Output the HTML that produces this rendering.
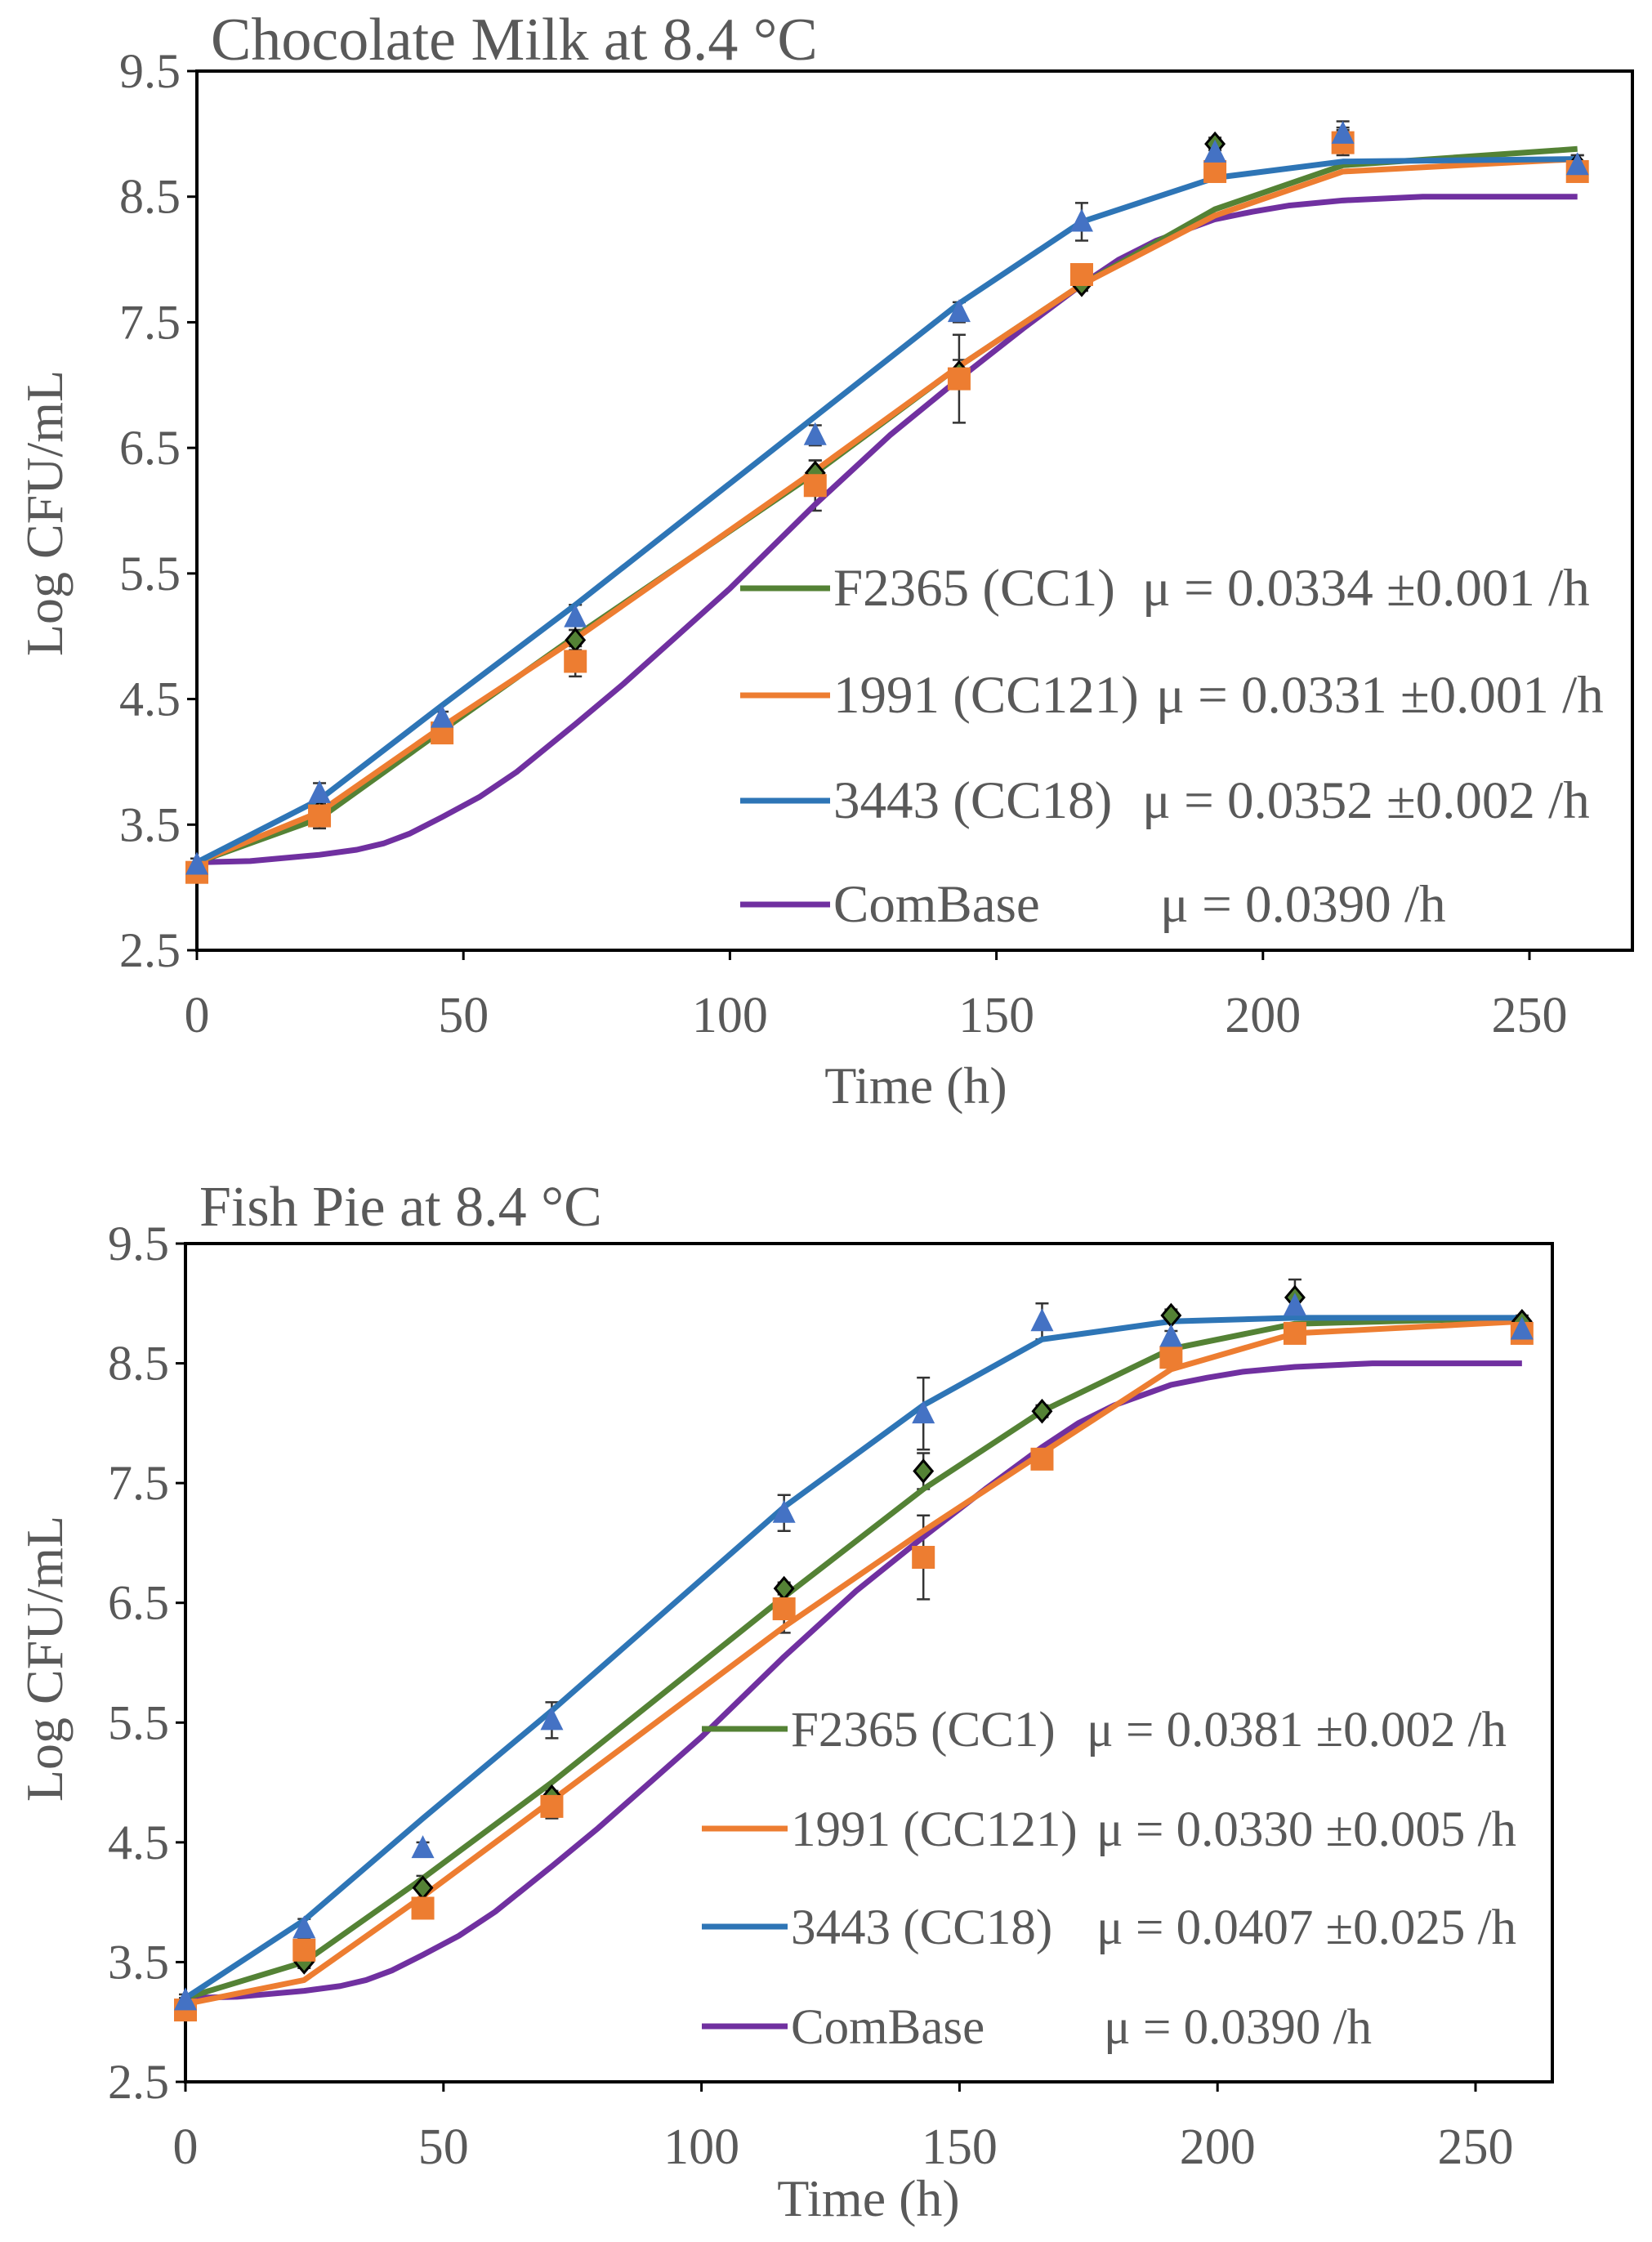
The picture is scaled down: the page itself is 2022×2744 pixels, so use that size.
<!DOCTYPE html>
<html><head><meta charset="utf-8"><style>
body{margin:0;background:#fff}
svg text{font-family:"Liberation Serif",serif;fill:#595959}
</style></head><body>
<svg id="root" width="2022" height="2739" viewBox="0 0 2022 2739" xmlns="http://www.w3.org/2000/svg"></svg>
<script>
const times=[0,23,46,71,116,143,166,191,215,259];
const yTicks=[2.5,3.5,4.5,5.5,6.5,7.5,8.5,9.5];
const xTicks=[0,50,100,150,200,250];
const cbTimes=[0,10,23,30,35,40,46,53,60,71,80,90,100,116,130,143,155,166,173,180,191,198,205,215,230,259];
const cbVals=[3.2,3.21,3.26,3.3,3.35,3.43,3.56,3.72,3.92,4.3,4.62,5.0,5.38,6.05,6.6,7.05,7.45,7.8,8.0,8.15,8.32,8.38,8.43,8.47,8.5,8.5];
// chart 1: chocolate milk
const c1GreenPts=[3.15,3.6,4.25,4.97,6.3,7.1,7.8,8.92,8.95,8.75];
const c1OrangePts=[3.12,3.57,4.23,4.8,6.2,7.05,7.88,8.7,8.93,8.7];
const c1BluePts=[3.18,3.75,4.35,5.15,6.6,7.58,8.3,8.85,9.0,8.75];
const c1GreenErr=[0.05,0.1,0.08,0.08,0.1,0.1,0.05,0.05,0.1,0.08];
const c1OrangeErr=[0.05,0.1,0.08,0.12,0.2,0.35,0.05,0.05,0.1,0.08];
const c1BlueErr=[0.05,0.08,0.05,0.1,0.08,0.08,0.15,0.08,0.1,0.08];
const c1GreenFit=[3.2,3.55,4.25,5.0,6.3,7.15,7.8,8.4,8.75,8.88];
const c1OrangeFit=[3.2,3.6,4.28,4.98,6.32,7.15,7.8,8.35,8.7,8.8];
const c1BlueFit=[3.2,3.7,4.45,5.25,6.75,7.65,8.3,8.65,8.78,8.8];
// chart 2: fish pie
const c2GreenPts=[3.15,3.5,4.12,4.88,6.62,7.6,8.1,8.9,9.05,8.85];
const c2OrangePts=[3.1,3.6,3.95,4.8,6.45,6.88,7.7,8.55,8.75,8.75];
const c2BluePts=[3.18,3.78,4.45,5.52,7.25,8.08,8.85,8.72,8.98,8.78];
const c2GreenErr=[0.05,0.05,0.1,0.05,0.05,0.15,0.05,0.05,0.15,0.05];
const c2OrangeErr=[0.05,0.1,0.08,0.1,0.2,0.35,0.05,0.05,0.05,0.05];
const c2BlueErr=[0.05,0.08,0.05,0.15,0.15,0.3,0.15,0.05,0.1,0.05];
const c2GreenFit=[3.2,3.5,4.2,5.0,6.55,7.45,8.1,8.62,8.83,8.88];
const c2OrangeFit=[3.15,3.35,4.05,4.85,6.3,7.1,7.75,8.45,8.75,8.85];
const c2BlueFit=[3.2,3.85,4.7,5.6,7.3,8.15,8.7,8.85,8.88,8.88];
const c1Legend=[["F2365 (CC1)","μ = 0.0334 ±0.001 /h",1398],["1991 (CC121)","μ = 0.0331 ±0.001 /h",1415],["3443 (CC18)","μ = 0.0352 ±0.002 /h",1398],["ComBase","μ = 0.0390 /h",1420]];
const c2Legend=[["F2365 (CC1)","μ = 0.0381 ±0.002 /h",1330],["1991 (CC121)","μ = 0.0330 ±0.005 /h",1342],["3443 (CC18)","μ = 0.0407 ±0.025 /h",1342],["ComBase","μ = 0.0390 /h",1351]];

const G='#548235',O='#ED7D31',B='#4472C4',BL='#2E75B6',P='#7030A0';
const NS='http://www.w3.org/2000/svg';
const root=document.getElementById('root');
function mk(t,a,p){const e=document.createElementNS(NS,t);for(const k in a)e.setAttribute(k,a[k]);(p||root).appendChild(e);return e;}

function chart(o){
  const g=mk('g',{});
  
  
  const X=t=>o.L+t*(o.x250-o.L)/250;
  const Y=v=>o.B-(v-2.5)*(o.B-o.T)/7;
  const fr=mk('rect',{x:o.L,y:o.T,width:o.R-o.L,height:o.B-o.T,fill:'none',stroke:'#000','stroke-width':4},g);
  
  
  yTicks.forEach(v=>{
    mk('line',{x1:o.L-12,x2:o.L,y1:Y(v),y2:Y(v),stroke:'#000','stroke-width':3},g);
    const t=mk('text',{x:o.L-20,y:Y(v)+20,'text-anchor':'end','font-size':60},g);t.textContent=v.toFixed(1);
    
    
  });
  xTicks.forEach(v=>{
    mk('line',{x1:X(v),x2:X(v),y1:o.B,y2:o.B+12,stroke:'#000','stroke-width':3},g);
    const t=mk('text',{x:X(v),y:o.B+100,'text-anchor':'middle','font-size':62},g);t.textContent=v;
    
    
  });
  const tt=mk('text',{x:o.tx,y:o.ty,'font-size':o.tfs},g);tt.textContent=o.title;
  
  
  const xt=mk('text',{x:o.xtx,y:o.xty,'text-anchor':'middle','font-size':64},g);xt.textContent='Time (h)';
  
  
  const yt=mk('text',{x:0,y:0,'text-anchor':'middle','font-size':64,transform:`translate(${o.ytx},${o.yty}) rotate(-90)`},g);yt.textContent='Log CFU/mL';
  
  
  const line=(ts,vs,c,n)=>{const p=mk('polyline',{points:ts.map((t,i)=>X(t)+','+Y(vs[i])).join(' '),fill:'none',stroke:c,'stroke-width':7,'stroke-linejoin':'round'},g);
    
    };
  const errs=(vs,es)=>times.forEach((t,i)=>{const x=X(t),a=Y(vs[i]-es[i]),b=Y(vs[i]+es[i]);
    mk('path',{d:`M${x},${a}V${b}M${x-8},${a}H${x+8}M${x-8},${b}H${x+8}`,stroke:'#333','stroke-width':2.5,fill:'none'},g);});
  errs(o.gp,o.ge);errs(o.op,o.oe);errs(o.bp,o.be);
  line(cbTimes,cbVals,P,'combase-line');
  line(times,o.gf,G,'f2365-fit-line');
  line(times,o.of,O,'cc121-fit-line');
  line(times,o.bf,BL,'cc18-fit-line');
  times.forEach((t,i)=>{const x=X(t),y=Y(o.gp[i]);
    const m=mk('path',{d:`M${x},${y-13}L${x+11},${y}L${x},${y+13}L${x-11},${y}Z`,fill:G,stroke:'#000','stroke-width':3},g);
    
    });
  times.forEach((t,i)=>{const x=X(t),y=Y(o.op[i]);
    const m=mk('rect',{x:x-14,y:y-14,width:28,height:28,fill:O},g);
    
    });
  times.forEach((t,i)=>{const x=X(t),y=Y(o.bp[i]);
    const m=mk('path',{d:`M${x},${y-16}L${x+14},${y+12}L${x-14},${y+12}Z`,fill:B},g);
    
    });
  const cols=[G,O,BL,P];
  o.leg.forEach((r,i)=>{const y=o.ly[i];
    const lg=mk('g',{},g);
    
    
    mk('line',{x1:o.lx1,x2:o.lx2,y1:y,y2:y,stroke:cols[i],'stroke-width':7},lg);
    const a=mk('text',{x:o.lx2+4,y:y+21,'font-size':o.lfs},lg);a.textContent=r[0];
    const b=mk('text',{x:r[2],y:y+21,'font-size':o.lfs},lg);b.textContent=r[1];
  });
}
chart({name:'chocolate-milk-chart',L:241,R:1998,T:87,B:1163,x250:1872,title:'Chocolate Milk at 8.4 °C',tfs:74,lfs:65,tx:258,ty:73,xtx:1121,xty:1350,ytx:76,yty:628,
 gp:c1GreenPts,op:c1OrangePts,bp:c1BluePts,ge:c1GreenErr,oe:c1OrangeErr,be:c1BlueErr,gf:c1GreenFit,of:c1OrangeFit,bf:c1BlueFit,
 leg:c1Legend,lx1:906,lx2:1016,ly:[720,851,980,1107]});
chart({name:'fish-pie-chart',L:227,R:1900,T:1522,B:2548,x250:1806,title:'Fish Pie at 8.4 °C',tfs:70,lfs:61,tx:244,ty:1500,xtx:1063,xty:2712,ytx:76,yty:2030,
 gp:c2GreenPts,op:c2OrangePts,bp:c2BluePts,ge:c2GreenErr,oe:c2OrangeErr,be:c2BlueErr,gf:c2GreenFit,of:c2OrangeFit,bf:c2BlueFit,
 leg:c2Legend,lx1:859,lx2:964,ly:[2116,2238,2358,2480]});
</script>
</body></html>
